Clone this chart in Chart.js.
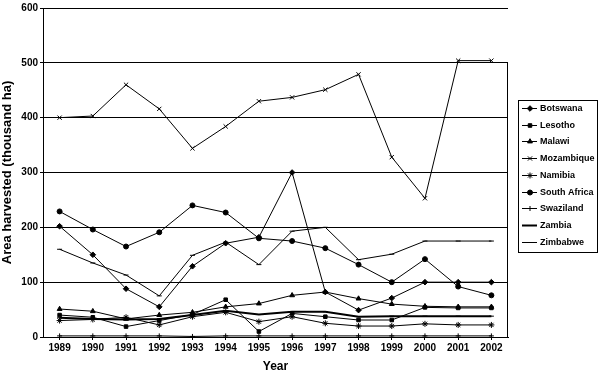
<!DOCTYPE html>
<html>
<head>
<meta charset="utf-8">
<script src="https://cdn.jsdelivr.net/npm/chart.js@4/dist/chart.umd.min.js"></script>
<style>
  html, body { margin: 0; padding: 0; background: #fff; }
  #wrap { width: 599px; height: 374px; }
</style>
</head>
<body>
<div id="wrap"><canvas id="chart" width="599" height="374"></canvas></div>
<script>
const years = ["1989", "1990", "1991", "1992", "1993", "1994", "1995", "1996", "1997", "1998", "1999", "2000", "2001", "2002"];

const botswana = [202, 150, 88, 55, 129, 171, 182, 300, 82, 49, 71, 100, 100, 100];
const lesotho = [40, 36, 19, 30, 41, 68, 10, 43, 37, 31, 31, 54, 53, 53];
const malawi = [51, 47, 33, 40, 45, 55, 61, 76, 82, 70, 60, 56, 55, 55];
const mozambique = [400, 403, 460, 416, 344, 384, 430, 437, 451, 479, 328, 253, 504, 504];
const namibia = [30, 32, 36, 22, 37, 45, 28, 37, 25, 20, 20, 24, 22, 22];
const southAfrica = [229, 196, 165, 191, 240, 227, 180, 175, 162, 132, 100, 142, 92, 76];
const swaziland = [2, 2, 2, 2, 1, 2, 2, 2, 2, 2, 2, 2, 2, 2];
const zambia = [35, 33, 32, 33, 40, 48, 41, 46, 46, 37, 38, 38, 38, 38];
const zimbabwe = [160, 135, 113, 75, 149, 173, 132, 193, 200, 141, 151, 175, 175, 175];

const yTicks = [0, 100, 200, 300, 400, 500, 600];

const FONT = "'Liberation Sans', Arial, sans-serif";

function series(label, data, style, radius, width) {
  return {
    label: label,
    data: data,
    borderColor: "#000",
    backgroundColor: "#000",
    borderWidth: width || 1,
    pointStyle: style,
    pointRadius: radius,
    pointBorderWidth: 1,
    pointBorderColor: "#000",
    pointBackgroundColor: "#000",
    tension: 0,
  };
}

const datasets = [
  series("Botswana", botswana, "rectRot", 2.8),
  series("Lesotho", lesotho, "rect", 2.5),
  series("Malawi", malawi, "triangle", 2.8),
  series("Mozambique", mozambique, "crossRot", 3),
  series("Namibia", namibia, "star", 3),
  series("South Africa", southAfrica, "circle", 2.5),
  series("Swaziland", swaziland, "cross", 2.5),
  series("Zambia", zambia, "line", 2.5, 2),
  series("Zimbabwe", zimbabwe, "line", 2.5),
];

// legend box at the right, drawn in the same style as the lines
const boxLegend = {
  id: "boxLegend",
  afterDraw(chart) {
    const ctx = chart.ctx;
    const x0 = 518, y0 = 100, w = 79, h = 152;
    ctx.save();
    ctx.fillStyle = "#fff";
    ctx.fillRect(x0, y0, w, h);
    ctx.strokeStyle = "#000";
    ctx.lineWidth = 1;
    ctx.strokeRect(x0 + 0.5, y0 + 0.5, w, h);
    ctx.font = "bold 9px " + FONT;
    ctx.textBaseline = "middle";
    chart.data.datasets.forEach((ds, i) => {
      const cy = Math.round(y0 + 8 + i * 16.7) + 0.5;
      ctx.strokeStyle = "#000";
      ctx.lineWidth = ds.borderWidth;
      ctx.beginPath();
      ctx.moveTo(x0 + 4, cy);
      ctx.lineTo(x0 + 19, cy);
      ctx.stroke();
      ctx.lineWidth = 1;
      ctx.fillStyle = "#000";
      if (Chart.helpers && Chart.helpers.drawPoint) {
        Chart.helpers.drawPoint(ctx, { pointStyle: ds.pointStyle, radius: ds.pointRadius, rotation: 0, borderWidth: 1 }, x0 + 12, cy);
      }
      ctx.fillStyle = "#000";
      ctx.fillText(ds.label, x0 + 22, cy);
    });
    ctx.restore();
  },
};

// right edge of the plot area
const rightEdge = {
  id: "rightEdge",
  afterDraw(chart) {
    const ctx = chart.ctx;
    const y = chart.scales.y;
    const x = Math.round(chart.chartArea.right) - 0.5;
    ctx.save();
    ctx.strokeStyle = "#000";
    ctx.lineWidth = 1;
    ctx.beginPath();
    ctx.moveTo(x, y.getPixelForValue(500));
    ctx.lineTo(x, y.getPixelForValue(0));
    ctx.stroke();
    ctx.restore();
  },
};

new Chart(document.getElementById("chart"), {
  type: "line",
  data: { labels: years, datasets: datasets },
  plugins: [rightEdge, boxLegend],
  options: {
    responsive: false,
    animation: false,
    layout: { padding: { top: 7, right: 91, left: 0, bottom: 0 } },
    plugins: { legend: { display: false }, tooltip: { enabled: false } },
    scales: {
      x: {
        type: "category",
        offset: true,
        afterFit: (s) => { s.height = 37; },
        grid: { display: true, drawOnChartArea: false, color: "#000", tickLength: 3, offset: false },
        border: { display: true, color: "#000", width: 1 },
        ticks: { color: "#000", font: { family: FONT, size: 10, weight: "bold" }, padding: 2, maxRotation: 0, autoSkip: false },
        title: { display: true, text: "Year", color: "#000", font: { family: FONT, size: 12, weight: "bold" }, padding: { top: 3, bottom: 0 } },
      },
      y: {
        min: 0,
        max: 600,
        afterFit: (s) => { s.width = 43; },
        afterBuildTicks: (s) => { s.ticks = yTicks.map((v) => ({ value: v })); },
        grid: { color: "#000", lineWidth: 1, tickLength: 3 },
        border: { display: true, color: "#000", width: 1 },
        ticks: { color: "#000", font: { family: FONT, size: 10, weight: "bold" }, padding: 2 },
        title: { display: true, text: "Area harvested (thousand ha)", color: "#000", font: { family: FONT, size: 13, weight: "bold" }, padding: { top: 0, bottom: 1 } },
      },
    },
  },
});
</script>
</body>
</html>
